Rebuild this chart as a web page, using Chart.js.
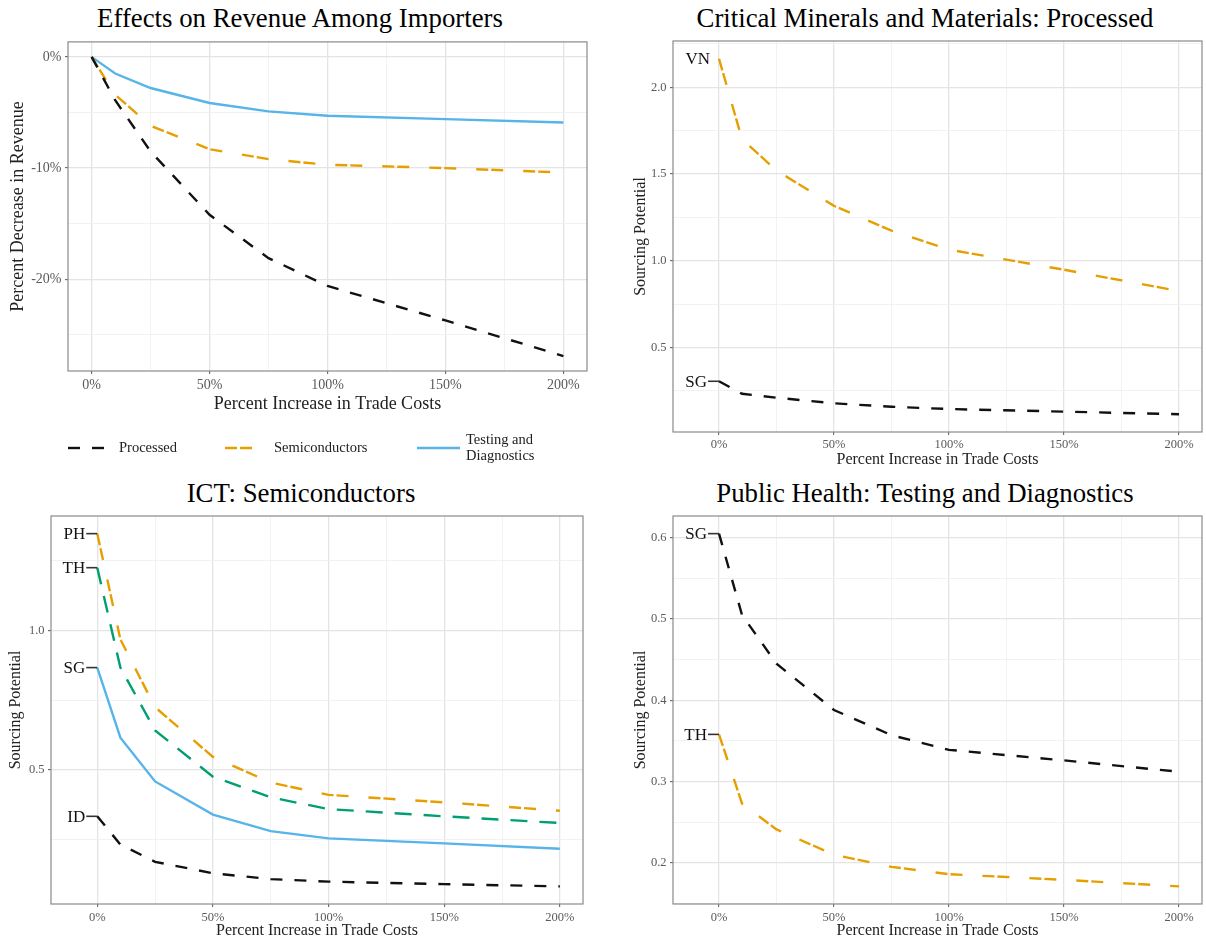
<!DOCTYPE html>
<html><head><meta charset="utf-8">
<script src="https://cdn.jsdelivr.net/npm/chart.js@4.4.1/dist/chart.umd.min.js"></script>
<style>
html,body{margin:0;padding:0;background:#fff;width:1206px;height:941px;overflow:hidden;font-family:'Liberation Serif','DejaVu Serif',serif;}
.box{position:absolute;}
.ttl{position:absolute;font-size:26.8px;color:#000;white-space:nowrap;transform:translateX(-50%);line-height:1;}
</style></head><body>
<div class="ttl" style="left:300px;top:5px">Effects on Revenue Among Importers</div>
<div class="ttl" style="left:925px;top:5px">Critical Minerals and Materials: Processed</div>
<div class="ttl" style="left:301px;top:480px">ICT: Semiconductors</div>
<div class="ttl" style="left:925px;top:480px">Public Health: Testing and Diagnostics</div>
<div class="box" style="left:0;top:30px;width:600px;height:440px"><canvas id="c1"></canvas></div>
<div class="box" style="left:620px;top:30px;width:586px;height:440px"><canvas id="c2"></canvas></div>
<div class="box" style="left:0;top:505px;width:600px;height:436px"><canvas id="c3"></canvas></div>
<div class="box" style="left:620px;top:505px;width:586px;height:436px"><canvas id="c4"></canvas></div>
<script>
// ---------- data ----------
const xPct = [0, 10, 25, 50, 75, 100, 150, 200];

// Panel 1: Effects on Revenue Among Importers (percent)
const revProcessed = [0, -3.9, -8.5, -14.2, -18.1, -20.6, -23.7, -26.9];
const revSemiconductors = [0, -3.4, -6.2, -8.3, -9.2, -9.7, -10.0, -10.4];
const revTesting = [0, -1.5, -2.8, -4.15, -4.9, -5.3, -5.6, -5.9];

// Panel 2: Critical Minerals and Materials: Processed
const procVN = [2.164, 1.70, 1.52, 1.316, 1.173, 1.064, 0.948, 0.825];
const procSG = [0.305, 0.233, 0.210, 0.178, 0.158, 0.145, 0.130, 0.115];

// Panel 3: ICT: Semiconductors
const semiPH = [1.347, 0.968, 0.725, 0.547, 0.455, 0.411, 0.384, 0.354];
const semiTH = [1.225, 0.867, 0.642, 0.476, 0.402, 0.360, 0.334, 0.310];
const semiSG = [0.867, 0.616, 0.459, 0.340, 0.281, 0.255, 0.237, 0.218];
const semiID = [0.334, 0.233, 0.171, 0.130, 0.109, 0.100, 0.091, 0.083];

// Panel 4: Public Health: Testing and Diagnostics
const healthSG = [0.605, 0.505, 0.445, 0.388, 0.357, 0.339, 0.326, 0.312];
const healthTH = [0.358, 0.273, 0.241, 0.210, 0.195, 0.186, 0.179, 0.171];

// tick values (major + minor gridlines)
const xTicks = [0, 25, 50, 75, 100, 125, 150, 175, 200];
const revTicks = [-25, -20, -15, -10, -5, 0];
const procTicks = [0.25, 0.5, 0.75, 1.0, 1.25, 1.5, 1.75, 2.0, 2.25];
const semiTicks = [0.25, 0.5, 0.75, 1.0, 1.25];
const healthTicks = [0.15, 0.2, 0.25, 0.3, 0.35, 0.4, 0.45, 0.5, 0.55, 0.6];

const legendLabels = ['Processed', 'Semiconductors', 'Testing and\nDiagnostics'];
const xTitle = 'Percent Increase in Trade Costs';

// ---------- styling ----------
const COL = {black: '#111111', orange: '#E69F00', green: '#009E73', blue: '#56B4E9'};
const DASH = {black: [12, 12], orange: [12, 3, 12, 20], green: [17, 12], solid: []};
const FONT = "'Liberation Serif', 'DejaVu Serif', serif";
Chart.defaults.font.family = FONT;
Chart.defaults.animation = false;

function isMajor(v, step) { const r = v / step; return Math.abs(r - Math.round(r)) < 1e-6; }
function pts(ys) { return xPct.map((x, i) => ({x: x, y: ys[i]})); }
function ds(label, ys, color, dash, tag, seg) {
  return {label: label, data: pts(ys), borderColor: color, backgroundColor: color, borderDash: dash,
    borderWidth: 2.4, pointRadius: 0, tension: 0, borderCapStyle: 'butt', tag: tag, tagSeg: seg};
}

const framePlugin = {
  id: 'frame',
  afterDatasetsDraw(chart) {
    const a = chart.chartArea, ctx = chart.ctx;
    ctx.save(); ctx.strokeStyle = '#8a8a8a'; ctx.lineWidth = 1.2;
    ctx.strokeRect(a.left, a.top, a.right - a.left, a.bottom - a.top);
    ctx.restore();
  }
};

const tagPlugin = {
  id: 'tags',
  afterDatasetsDraw(chart) {
    const ctx = chart.ctx;
    chart.data.datasets.forEach((d, i) => {
      if (!d.tag) return;
      const p = chart.getDatasetMeta(i).data[0];
      ctx.save();
      ctx.font = '17px ' + FONT; ctx.fillStyle = '#111'; ctx.textAlign = 'right'; ctx.textBaseline = 'middle';
      if (d.tagSeg) {
        ctx.strokeStyle = '#333'; ctx.lineWidth = 1.6;
        ctx.beginPath(); ctx.moveTo(p.x - 11, p.y); ctx.lineTo(p.x, p.y); ctx.stroke();
        ctx.fillText(d.tag, p.x - 12, p.y + 1);
      } else {
        ctx.fillText(d.tag, p.x - 9, p.y + 1);
      }
      ctx.restore();
    });
  }
};

const legendPlugin = {
  id: 'bottomLegend',
  afterDraw(chart) {
    const o = chart.options.plugins.bottomLegend;
    if (!o || !o.items) return;
    const ctx = chart.ctx;
    const y = o.y;
    o.items.forEach((it, i) => {
      const d = chart.data.datasets[i];
      ctx.save();
      ctx.strokeStyle = d.borderColor; ctx.lineWidth = 2.4; ctx.setLineDash(d.borderDash || []);
      ctx.beginPath(); ctx.moveTo(it.x0, y); ctx.lineTo(it.x1, y); ctx.stroke();
      ctx.setLineDash([]);
      ctx.font = '14.5px ' + FONT; ctx.fillStyle = '#222'; ctx.textAlign = 'left'; ctx.textBaseline = 'middle';
      const lines = d.label.split('\n');
      const lh = 16.5;
      lines.forEach((ln, k) => ctx.fillText(ln, it.tx, y + (k - (lines.length - 1) / 2) * lh));
      ctx.restore();
    });
  }
};

function makeChart(id, c) {
  let lo = Infinity, hi = -Infinity;
  c.datasets.forEach(d => d.data.forEach(p => { lo = Math.min(lo, p.y); hi = Math.max(hi, p.y); }));
  const ex = (hi - lo) * 0.05;
  const gridCol = step => (ctx) => (ctx.tick && isMajor(ctx.tick.value, step)) ? '#e4e4e4' : '#f0f0f0';
  const gridW = step => (ctx) => (ctx.tick && isMajor(ctx.tick.value, step)) ? 1.3 : 0.9;
  const tickCol = step => (ctx) => (ctx.tick && isMajor(ctx.tick.value, step)) ? '#555' : 'rgba(0,0,0,0)';
  return new Chart(document.getElementById(id), {
    type: 'line',
    data: {datasets: c.datasets},
    options: {
      responsive: true, maintainAspectRatio: false, animation: false,
      layout: {padding: c.padding},
      plugins: {legend: {display: false}, tooltip: {enabled: false}, bottomLegend: c.legend || {}},
      scales: {
        x: {
          type: 'linear', min: c.xMin, max: 210,
          afterBuildTicks: s => { s.ticks = xTicks.map(v => ({value: v})); },
          afterFit: s => { s.height = c.xHeight; },
          grid: {color: gridCol(50), lineWidth: gridW(50), tickLength: 3, tickColor: tickCol(50), tickWidth: 1},
          border: {display: false},
          ticks: {autoSkip: false, maxRotation: 0, padding: c.xTickPad, color: '#5a5a5a',
            font: {size: c.tickSize, family: FONT},
            callback: v => isMajor(v, 50) ? v + '%' : ''},
          title: {display: true, text: xTitle, color: '#222', font: {size: c.titleSize, family: FONT},
            padding: {top: 0, bottom: c.xTitlePad}}
        },
        y: {
          type: 'linear', min: lo - ex, max: hi + ex,
          afterBuildTicks: s => { s.ticks = c.yTicks.map(v => ({value: v})); },
          afterFit: s => { s.width = c.yWidth; },
          grid: {color: gridCol(c.yStep), lineWidth: gridW(c.yStep), tickLength: 3, tickColor: tickCol(c.yStep), tickWidth: 1},
          border: {display: false},
          ticks: {autoSkip: false, padding: 3.5, color: '#5a5a5a', font: {size: c.tickSize, family: FONT},
            callback: v => isMajor(v, c.yStep) ? c.yFmt(v) : ''},
          title: {display: true, text: c.yTitle, color: '#222', font: {size: c.titleSize, family: FONT},
            padding: {top: c.yTitlePad, bottom: 0}}
        }
      }
    },
    plugins: [framePlugin, tagPlugin, legendPlugin]
  });
}

makeChart('c1', {
  datasets: [
    ds(legendLabels[0], revProcessed, COL.black, DASH.black),
    ds(legendLabels[1], revSemiconductors, COL.orange, DASH.orange),
    ds(legendLabels[2], revTesting, COL.blue, DASH.solid)
  ],
  xMin: -10,
  padding: {top: 10, right: 13, bottom: 50, left: 0},
  yWidth: 68, xHeight: 49, tickSize: 14, titleSize: 18, xTickPad: 3, xTitlePad: 5, yTitlePad: 7,
  yTicks: revTicks, yStep: 10, yFmt: v => Math.round(v) + '%',
  yTitle: 'Percent Decrease in Revenue',
  legend: {y: 418, items: [{x0: 68, x1: 105, tx: 119}, {x0: 225, x1: 252, tx: 274}, {x0: 417, x1: 460, tx: 466}]}
});

makeChart('c2', {
  datasets: [
    ds('VN', procVN, COL.orange, DASH.orange, 'VN', false),
    ds('SG', procSG, COL.black, DASH.black, 'SG', true)
  ],
  xMin: -20,
  padding: {top: 10, right: 4, bottom: 0, left: 0},
  yWidth: 53, xHeight: 38, tickSize: 12.5, titleSize: 16, xTickPad: 2, xTitlePad: 1, yTitlePad: 11,
  yTicks: procTicks, yStep: 0.5, yFmt: v => v.toFixed(1),
  yTitle: 'Sourcing Potential'
});

makeChart('c3', {
  datasets: [
    ds('PH', semiPH, COL.orange, DASH.orange, 'PH', true),
    ds('TH', semiTH, COL.green, DASH.green, 'TH', true),
    ds('SG', semiSG, COL.blue, DASH.solid, 'SG', true),
    ds('ID', semiID, COL.black, DASH.black, 'ID', true)
  ],
  xMin: -20,
  padding: {top: 10, right: 17, bottom: 0, left: 0},
  yWidth: 51, xHeight: 37, tickSize: 12.5, titleSize: 16, xTickPad: 3, xTitlePad: 1, yTitlePad: 6,
  yTicks: semiTicks, yStep: 0.5, yFmt: v => v.toFixed(1),
  yTitle: 'Sourcing Potential'
});

makeChart('c4', {
  datasets: [
    ds('SG', healthSG, COL.black, DASH.black, 'SG', true),
    ds('TH', healthTH, COL.orange, DASH.orange, 'TH', true)
  ],
  xMin: -20,
  padding: {top: 10, right: 4, bottom: 0, left: 0},
  yWidth: 53, xHeight: 37, tickSize: 12.5, titleSize: 16, xTickPad: 3, xTitlePad: 1, yTitlePad: 11,
  yTicks: healthTicks, yStep: 0.1, yFmt: v => v.toFixed(1),
  yTitle: 'Sourcing Potential'
});
</script>
</body></html>
